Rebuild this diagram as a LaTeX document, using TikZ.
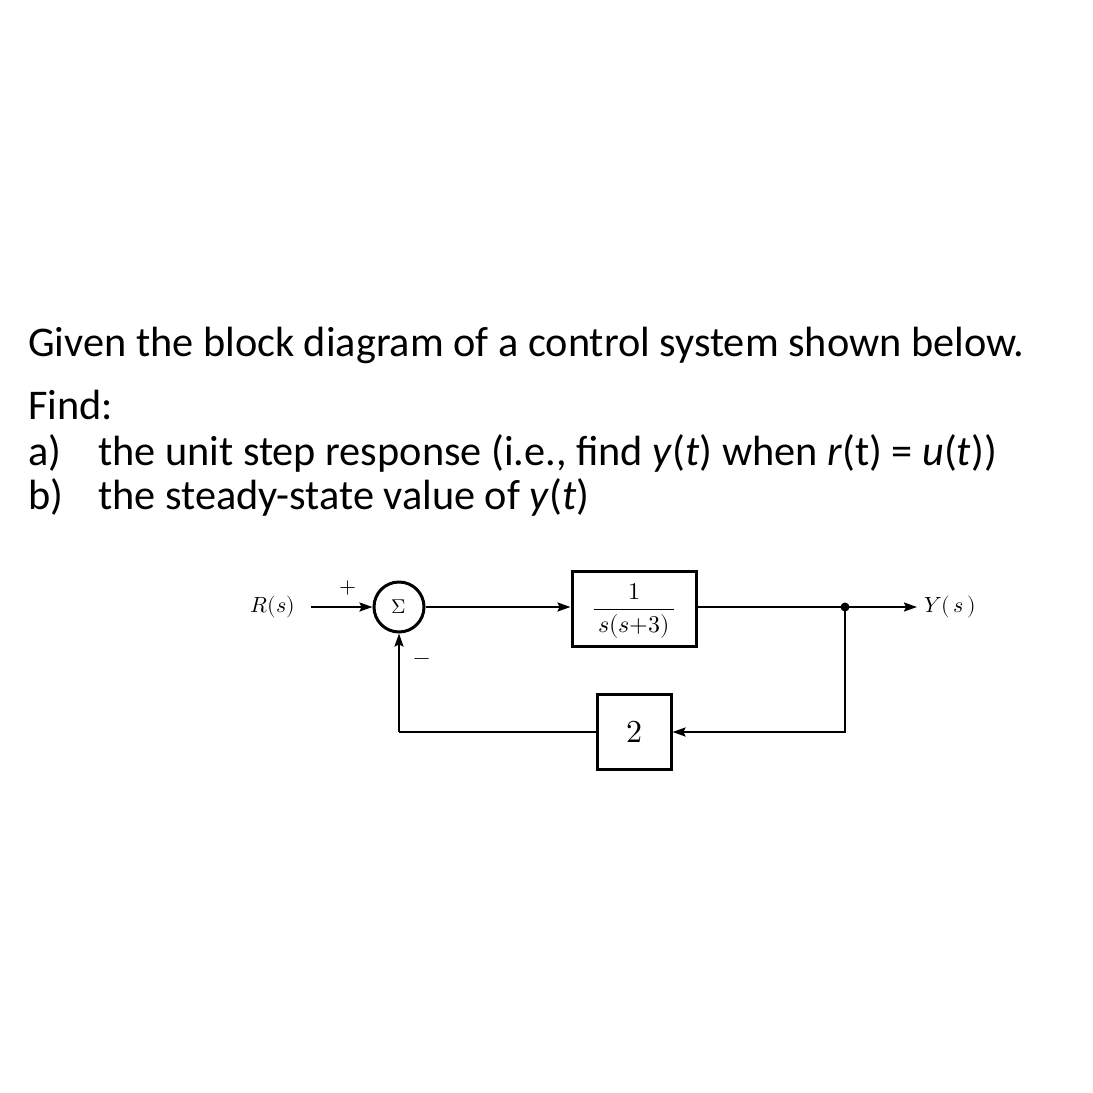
\documentclass[tikz,border=0pt]{standalone}
\usepackage{fontspec}
\setmainfont{Carlito}
\usepackage{unicode-math}
\setmathfont{Latin Modern Math}
\usetikzlibrary{arrows.meta}
\newfontfamily\bodyfont{Carlito}
\begin{document}
\begin{tikzpicture}[x=1pt,y=-1pt,
  txt/.style={anchor=base west,inner sep=0pt,font=\bodyfont\fontsize{42.3}{50}\selectfont},
  blk/.style={draw,line width=3pt,inner sep=0pt},
  lbl/.style={inner sep=0pt,font=\fontsize{22}{26}\selectfont},
  sig/.style={line width=2pt},
  arr/.style={sig,-{Stealth[length=13pt,width=9pt,inset=2pt]}}]
\useasboundingbox (0,0) rectangle (1093,1093);
% text
\node[txt] (t1) at (28,356) {Given the block diagram of a control system shown below.};
\node[txt] (t2) at (28,419) {Find:};
\node[txt] (t3a) at (28,465) {a)};
\node[txt] (t3) at (98,465) {the unit step response (i.e., find \textit{y}(\textit{t}) when \textit{r}(t) = \textit{u}(\textit{t}))};
\node[txt] (t4a) at (28,509) {b)};
\node[txt] (t4) at (98,509) {the steady-state value of \textit{y}(\textit{t})};
% diagram
\node[lbl] (R) at (273,607) {$R(s)$};
\coordinate (in) at (311,607);
\node[draw,circle,line width=3pt,minimum size=50pt,inner sep=0pt,font=\fontsize{20}{22}\selectfont] (sum) at (399,607) {$\Sigma$};
\node[lbl] (plus) at (348,588) {$+$};
\node[lbl] (minus) at (422,662) {$-$};
\node[blk,minimum width=124pt,minimum height=75pt] (G) at (634,608.5) {};
\node[lbl,font=\fontsize{24}{28}\selectfont] (Gt) at (634,611) {$\dfrac{1}{\,s(s{+}3)\,}$};
\node[blk,minimum width=74pt,minimum height=75pt] (H) at (634,732) {};
\node[lbl,font=\fontsize{32}{36}\selectfont] (Ht) at (634,732) {$2$};
\fill (845,607) circle (4.5pt);
\coordinate (br) at (845,607);
\coordinate (out) at (917,607);
\node[lbl,anchor=west] (Y) at (924,607) {$Y(\,s\,)$};
\coordinate (c1) at (845,732);
\coordinate (c2) at (399,732);
\draw[arr] (in) -- (sum.west);
\draw[arr] (sum.east) -- (sum.east -| G.west);
\draw[sig] (G.east |- br) -- (br);
\draw[arr] (br) -- (out);
\draw[arr] (br) -- (c1) -- (H.east);
\draw[sig] (H.west) -- (c2);
\draw[arr] (c2) -- (sum.south);
\end{tikzpicture}
\end{document}
